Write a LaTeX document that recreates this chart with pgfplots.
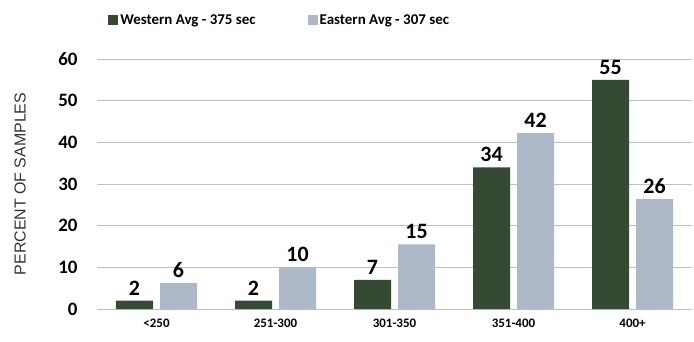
\documentclass[border=0pt]{standalone}
\usepackage{fontspec}
\setmainfont{Carlito}
\newfontfamily\arialfont{Liberation Sans}
\usepackage{pgfplots}
\pgfplotsset{compat=1.18}
\definecolor{westgreen}{HTML}{344A32}
\definecolor{eastblue}{HTML}{ADB9C9}
\definecolor{gridgray}{HTML}{BFBFBF}
\begin{document}
\begin{tikzpicture}[x=1bp,y=1bp]
% canvas frame so the page is 694x341
\path (-97,-32) rectangle (597,309);
\begin{axis}[
    at={(0,0)}, anchor=south west,
    scale only axis,
    width=595bp, height=250bp,
    ybar=7bp, bar width=37bp,
    xmin=-0.5, xmax=4.5,
    ymin=0, ymax=60,
    ytick={0,10,...,60},
    xtick=data,
    xticklabels={<250,251-300,301-350,351-400,400+},
    x tick label style={font=\fontsize{13}{15}\selectfont\bfseries, yshift=-6bp},
    y tick label style={font=\fontsize{19}{21}\selectfont\bfseries, xshift=-16bp},
    /pgf/number format/assume math mode=true,
    major tick length=0pt,
    axis x line*=bottom,
    axis y line*=left,
    x axis line style={draw=gridgray},
    y axis line style={draw=none},
    ymajorgrids, grid style={gridgray, line width=0.8pt},
    ylabel={\arialfont PERCENT OF SAMPLES},
    ylabel style={font=\fontsize{16}{18}\selectfont, text=black!80,
        at={(axis description cs:-0.129,0.5)}, anchor=center},
    nodes near coords,
    nodes near coords style={font=\fontsize{22}{25}\selectfont\bfseries, text=black, yshift=2bp},
    point meta=explicit symbolic,
    clip=false,
    legend style={draw=none, fill=none, font=\fontsize{15}{18}\selectfont\bfseries,
        at={(0.307,1.156)}, anchor=center, legend columns=2,
        /tikz/every even column/.append style={column sep=50bp}},
    legend image code/.code={\fill[#1] (0bp,-5bp) rectangle (10bp,5bp);},
]
\addplot[fill=westgreen, draw=none] coordinates {
    (0,2) [2] (1,2) [2] (2,7) [7] (3,34) [34] (4,55) [55]
};
\addlegendentry{Western Avg - 375 sec}
\addplot[fill=eastblue, draw=none] coordinates {
    (0,6.2) [6] (1,10) [10] (2,15.5) [15] (3,42.2) [42] (4,26.4) [26]
};
\addlegendentry{Eastern Avg - 307 sec}
\end{axis}
\end{tikzpicture}
\end{document}
